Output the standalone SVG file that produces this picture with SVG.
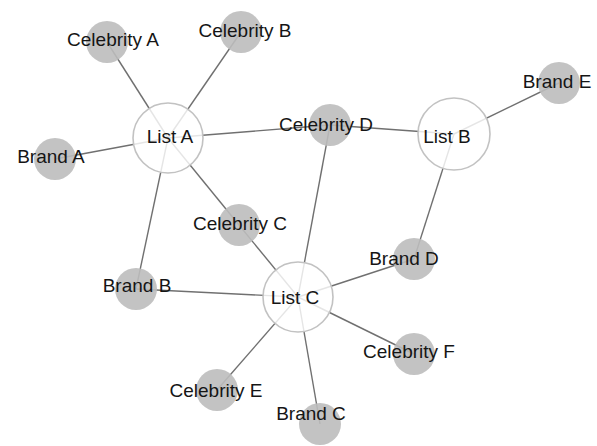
<svg xmlns="http://www.w3.org/2000/svg" width="597" height="446" viewBox="0 0 597 446">
<style>
.e{stroke:#707070;stroke-width:1.4;fill:none}
.g{fill:#bdbdbd;fill-opacity:0.9;stroke:none}
.w{fill:#fff;fill-opacity:0.82;stroke:#c2c2c2;stroke-width:1.6}
text{font-family:"Liberation Sans",Arial,sans-serif;font-size:19px;fill:#151515;text-anchor:middle}
</style>
<rect width="597" height="446" fill="#fff"/>
<g id="connectors">
<line class="e" x1="168" y1="138" x2="107" y2="42"/>
<line class="e" x1="168" y1="138" x2="241" y2="32"/>
<line class="e" x1="168" y1="138" x2="55" y2="159"/>
<line class="e" x1="168" y1="138" x2="330" y2="125"/>
<line class="e" x1="168" y1="138" x2="239" y2="225"/>
<line class="e" x1="168" y1="138" x2="136" y2="289"/>
<line class="e" x1="330" y1="125" x2="454" y2="134"/>
<line class="e" x1="454" y1="134" x2="559" y2="83"/>
<line class="e" x1="454" y1="134" x2="414" y2="259"/>
<line class="e" x1="239" y1="225" x2="298" y2="297"/>
<line class="e" x1="330" y1="125" x2="298" y2="297"/>
<line class="e" x1="136" y1="289" x2="298" y2="297"/>
<line class="e" x1="414" y1="259" x2="298" y2="297"/>
<line class="e" x1="298" y1="297" x2="414" y2="354"/>
<line class="e" x1="298" y1="297" x2="217" y2="390"/>
<line class="e" x1="298" y1="297" x2="320" y2="424"/>
</g>
<g id="celebrity-a"><circle class="g" cx="107" cy="42" r="21"/><text x="113" y="46">Celebrity A</text></g>
<g id="celebrity-b"><circle class="g" cx="241" cy="32" r="21"/><text x="245" y="37">Celebrity B</text></g>
<g id="brand-a"><circle class="g" cx="55" cy="159" r="21"/><text x="51" y="163">Brand A</text></g>
<g id="celebrity-d"><circle class="g" cx="330" cy="125" r="21"/><text x="326" y="131">Celebrity D</text></g>
<g id="brand-e"><circle class="g" cx="559" cy="83" r="21"/><text x="557" y="88">Brand E</text></g>
<g id="celebrity-c"><circle class="g" cx="239" cy="225" r="21"/><text x="240" y="230">Celebrity C</text></g>
<g id="brand-b"><circle class="g" cx="136" cy="289" r="21"/><text x="137" y="292">Brand B</text></g>
<g id="brand-d"><circle class="g" cx="414" cy="259" r="21"/><text x="404" y="265">Brand D</text></g>
<g id="celebrity-f"><circle class="g" cx="414" cy="354" r="21"/><text x="409" y="358">Celebrity F</text></g>
<g id="celebrity-e"><circle class="g" cx="217" cy="390" r="21"/><text x="216" y="397">Celebrity E</text></g>
<g id="brand-c"><circle class="g" cx="320" cy="424" r="21"/><text x="311" y="420">Brand C</text></g>
<g id="list-a"><circle class="w" cx="168" cy="138" r="35"/><text x="170" y="143">List A</text></g>
<g id="list-b"><circle class="w" cx="454" cy="134" r="36"/><text x="447" y="143">List B</text></g>
<g id="list-c"><circle class="w" cx="298" cy="297" r="35"/><text x="295" y="304">List C</text></g>
</svg>
